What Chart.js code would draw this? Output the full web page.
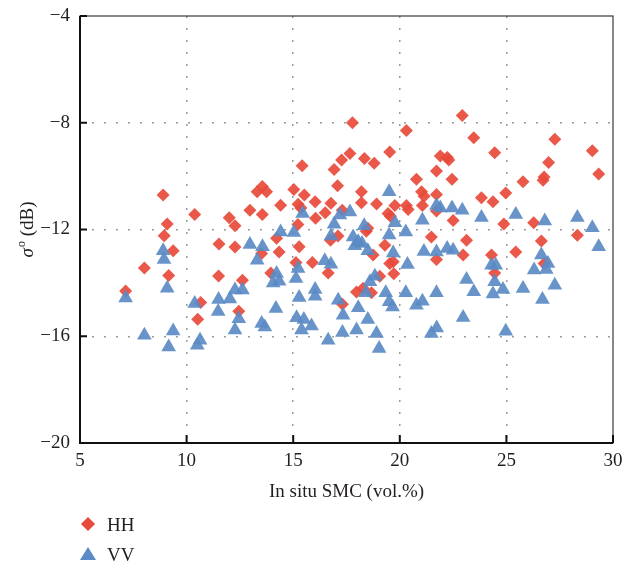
<!DOCTYPE html>
<html>
<head>
<meta charset="utf-8">
<script src="https://cdn.jsdelivr.net/npm/chart.js@4.4.1/dist/chart.umd.min.js"></script>
<style>
  html, body { margin: 0; padding: 0; background: #fff; }
  #wrap { position: relative; width: 624px; height: 569px; }
  #legend { position: absolute; left: 0; top: 0; font-family: 'Liberation Serif', serif; font-size: 19px; color: #231f20; }
  .item { position: absolute; left: 80px; height: 20px; width: 80px; }
  .item span.lbl { position: absolute; left: 27px; top: -2px; line-height: 22px; }
  .dia { position: absolute; left: 3px; top: 3px; width: 10px; height: 10px; background: #e84a3b; transform: rotate(45deg); }
  .tri { position: absolute; left: 0; top: 1px; width: 0; height: 0; border-left: 8px solid transparent; border-right: 8px solid transparent; border-bottom: 13px solid #5b8bc6; }
</style>
</head>
<body>
<div id="wrap">
  <canvas id="chart" width="624" height="569"></canvas>
  <div id="legend">
    <div class="item" style="top:516px"><div class="dia"></div><span class="lbl">HH</span></div>
    <div class="item" style="top:546px"><div class="tri"></div><span class="lbl">VV</span></div>
  </div>
</div>
<script>
  // HH backscatter vs soil moisture
  const hhSMC = [7.14, 8.02, 8.9, 8.95, 9.09, 9.16, 9.37, 10.38, 10.52, 10.66,
    11.5, 11.52, 12.0, 12.27, 12.27, 12.45, 12.62, 12.97, 13.31, 13.52,
    13.55, 13.55, 13.75, 13.95, 14.22, 14.34, 14.41, 15.03, 15.13, 15.22,
    15.23, 15.28, 15.36, 15.42, 15.52, 15.9, 16.03, 16.05, 16.5, 16.64,
    16.75, 16.77, 16.92, 17.08, 17.1, 17.27, 17.3, 17.31, 17.66, 17.78,
    17.97, 18.2, 18.2, 18.28, 18.34, 18.43, 18.5, 18.67, 18.75, 18.8,
    18.91, 19.06, 19.3, 19.45, 19.53, 19.53, 19.56, 19.69, 19.72, 19.77,
    20.31, 20.31, 20.39, 20.78, 21.02, 21.06, 21.14, 21.48, 21.72, 21.72,
    21.72, 21.72, 21.9, 22.23, 22.3, 22.45, 22.5, 22.93, 22.97, 23.13,
    23.47, 23.83, 24.3, 24.37, 24.45, 24.45, 24.88, 24.97, 25.44, 25.78,
    26.28, 26.64, 26.72, 26.77, 26.77, 26.98, 27.27, 28.33, 29.03, 29.33];
  const hhSigma = [-14.3, -13.44, -10.71, -12.23, -11.79, -13.72, -12.8, -11.44, -15.36, -14.74,
    -13.74, -12.54, -11.56, -11.86, -12.66, -15.06, -13.9, -11.28, -10.59, -12.9,
    -10.39, -11.44, -10.59, -13.63, -12.33, -12.84, -11.09, -10.5, -13.24, -11.81,
    -11.05, -12.65, -11.19, -9.61, -10.71, -13.24, -10.96, -11.58, -11.37, -13.63,
    -12.4, -11.02, -9.75, -10.36, -12.24, -9.4, -11.28, -14.8, -9.15, -8.0,
    -14.34, -10.59, -11.0, -14.2, -9.34, -12.07, -11.95, -14.37, -12.96, -9.52,
    -11.04, -13.75, -12.59, -11.4, -9.1, -13.27, -11.5, -13.21, -13.66, -11.1,
    -8.29, -11.1, -11.25, -10.12, -10.59, -11.1, -10.75, -12.28, -9.81, -10.69,
    -11.31, -13.12, -9.25, -9.3, -9.4, -10.12, -11.66, -7.73, -12.96, -12.4,
    -8.56, -10.81, -12.96, -10.96, -9.12, -13.63, -11.79, -10.63, -12.84, -10.21,
    -11.75, -12.43, -10.15, -10.03, -13.27, -9.49, -8.62, -12.22, -9.05, -9.92];

  // VV backscatter vs soil moisture
  const vvSMC = [7.14, 8.02, 8.9, 8.94, 9.09, 9.16, 9.37, 10.38, 10.5, 10.63,
    11.48, 11.5, 12.03, 12.27, 12.27, 12.45, 12.62, 12.97, 13.31, 13.52,
    13.56, 13.67, 14.06, 14.19, 14.22, 14.34, 14.41, 15.03, 15.13, 15.16,
    15.23, 15.28, 15.39, 15.44, 15.5, 15.86, 16.03, 16.03, 16.48, 16.64,
    16.77, 16.77, 16.92, 17.11, 17.19, 17.31, 17.34, 17.66, 17.81, 17.89,
    17.97, 18.05, 18.05, 18.23, 18.33, 18.4, 18.5, 18.5, 18.6, 18.83,
    18.91, 19.03, 19.34, 19.5, 19.5, 19.5, 19.66, 19.69, 19.77, 20.28,
    20.28, 20.36, 20.78, 21.06, 21.06, 21.13, 21.48, 21.72, 21.72, 21.72,
    21.73, 21.9, 22.22, 22.45, 22.5, 22.93, 22.97, 23.13, 23.47, 23.83,
    24.3, 24.37, 24.45, 24.5, 24.84, 24.97, 25.44, 25.78, 26.3, 26.64,
    26.69, 26.8, 26.87, 26.95, 27.27, 28.33, 29.03, 29.33];
  const vvSigma = [-14.57, -15.96, -12.8, -13.12, -14.2, -16.4, -15.8, -14.77, -16.34, -16.15,
    -15.07, -14.62, -14.6, -14.27, -15.77, -15.34, -14.27, -12.56, -13.15, -15.52,
    -12.65, -15.65, -14.0, -14.96, -13.65, -13.94, -12.09, -12.11, -13.84, -15.31,
    -13.46, -14.55, -15.77, -11.4, -15.37, -15.62, -14.25, -14.5, -13.17, -16.15,
    -12.24, -13.3, -11.8, -14.65, -11.46, -15.86, -15.21, -11.34, -12.28, -12.61,
    -15.77, -12.46, -14.93, -12.52, -11.86, -14.37, -12.8, -15.37, -13.96, -13.75,
    -15.9, -16.46, -14.37, -10.59, -12.21, -14.71, -14.9, -12.88, -11.75, -12.09,
    -14.37, -13.31, -14.84, -11.65, -14.69, -12.82, -15.9, -11.1, -12.84, -14.37,
    -15.69, -11.19, -12.71, -11.19, -12.78, -11.28, -15.3, -13.87, -14.33, -11.55,
    -13.34, -14.42, -13.96, -13.34, -14.25, -15.81, -11.44, -14.21, -13.52, -12.96,
    -14.62, -11.68, -13.5, -13.27, -14.09, -11.55, -11.93, -12.65];

  const xTicks = [5, 10, 15, 20, 25, 30];
  const yTicks = [-20, -16, -12, -8, -4];

  const serif = "'Liberation Serif', 'Times New Roman', serif";
  const ink = '#231f20';

  const pts = (xs, ys) => xs.map((v, i) => ({ x: v, y: ys[i] }));

  const edgeless = (ticks) => (c) => {
    if (!c.tick) return '#9a9a9a';
    const v = c.tick.value;
    return (v === ticks[0] || v === ticks[ticks.length - 1]) ? 'rgba(0,0,0,0)' : '#9a9a9a';
  };

  const frame = {
    id: 'frame',
    beforeDatasetsDraw(chart) {
      const { ctx, chartArea: a, scales: { x, y } } = chart;
      ctx.save();
      ctx.strokeStyle = '#3a3a3a';
      ctx.lineWidth = 1.2;
      ctx.strokeRect(a.left, a.top, a.right - a.left, a.bottom - a.top);
      ctx.strokeStyle = '#111';
      ctx.lineWidth = 2;
      ctx.beginPath();
      ctx.moveTo(a.left, a.top);
      ctx.lineTo(a.left, a.bottom);
      ctx.lineTo(a.right, a.bottom);
      y.ticks.forEach((t) => {
        const py = y.getPixelForValue(t.value);
        ctx.moveTo(a.left, py);
        ctx.lineTo(a.left + 7, py);
      });
      x.ticks.forEach((t) => {
        const px = x.getPixelForValue(t.value);
        ctx.moveTo(px, a.bottom);
        ctx.lineTo(px, a.bottom - 8);
      });
      ctx.stroke();
      ctx.restore();
    },
    afterDraw(chart) {
      // y axis title: italic sigma with superscript o
      const { ctx, chartArea: a } = chart;
      ctx.save();
      ctx.translate(27, (a.top + a.bottom) / 2);
      ctx.rotate(-Math.PI / 2);
      ctx.fillStyle = ink;
      ctx.textBaseline = 'alphabetic';
      const f1 = 'italic 19px ' + serif;
      const f2 = '12px ' + serif;
      const f3 = '19px ' + serif;
      ctx.font = f1; const w1 = ctx.measureText('σ').width;
      ctx.font = f2; const w2 = ctx.measureText('o').width;
      ctx.font = f3; const w3 = ctx.measureText(' (dB)').width;
      let px = -(w1 + w2 + 1 + w3) / 2;
      ctx.font = f1; ctx.fillText('σ', px, 6); px += w1 + 1;
      ctx.font = f2; ctx.fillText('o', px, -2); px += w2;
      ctx.font = f3; ctx.fillText(' (dB)', px, 6);
      ctx.restore();
    }
  };

  new Chart(document.getElementById('chart'), {
    type: 'scatter',
    data: {
      datasets: [
        {
          label: 'HH',
          data: pts(hhSMC, hhSigma),
          pointStyle: 'rectRot',
          pointRadius: 6.5,
          backgroundColor: 'rgba(232,74,59,0.92)',
          borderWidth: 0,
          order: 1
        },
        {
          label: 'VV',
          data: pts(vvSMC, vvSigma),
          pointStyle: 'triangle',
          pointRadius: 8.5,
          backgroundColor: 'rgba(91,139,198,0.92)',
          borderWidth: 0,
          order: 0
        }
      ]
    },
    options: {
      responsive: false,
      animation: false,
      events: [],
      layout: { padding: { top: 16, right: 11, left: 0, bottom: 0 } },
      plugins: { legend: { display: false }, tooltip: { enabled: false } },
      scales: {
        x: {
          type: 'linear',
          min: 5,
          max: 30,
          afterBuildTicks: (s) => { s.ticks = xTicks.map((v) => ({ value: v })); },
          afterFit: (s) => { s.height = 126; s.paddingLeft = 0; s.paddingRight = 0; },
          ticks: { padding: 7, color: ink, font: { family: serif, size: 19 } },
          grid: { color: edgeless(xTicks), lineWidth: 1.5, drawTicks: false },
          border: { display: false, dash: [2, 10] },
          title: {
            display: true,
            text: 'In situ SMC (vol.%)',
            color: ink,
            font: { family: serif, size: 19 },
            padding: { top: 0, bottom: 66 }
          }
        },
        y: {
          min: -20,
          max: -4,
          afterBuildTicks: (s) => { s.ticks = yTicks.map((v) => ({ value: v })); },
          afterFit: (s) => { s.width = 80; s.paddingTop = 0; s.paddingBottom = 0; },
          ticks: {
            padding: 10,
            color: ink,
            font: { family: serif, size: 19 },
            callback: (v) => (v < 0 ? '\u2212' + Math.abs(v) : String(v))
          },
          grid: { color: edgeless(yTicks), lineWidth: 1.5, drawTicks: false },
          border: { display: false, dash: [2, 10] }
        }
      }
    },
    plugins: [frame]
  });
</script>
</body>
</html>
